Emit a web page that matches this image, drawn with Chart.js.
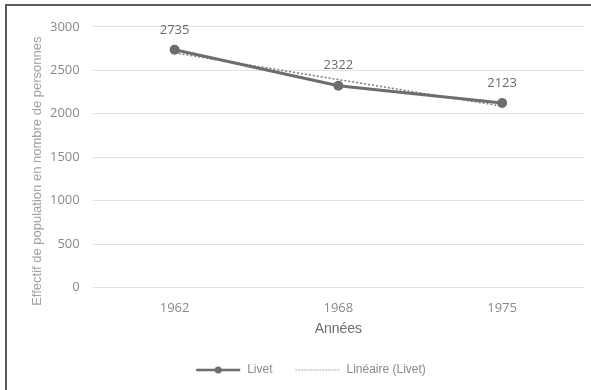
<!DOCTYPE html>
<html>
<head>
<meta charset="utf-8">
<script src="https://cdn.jsdelivr.net/npm/chart.js@4/dist/chart.umd.min.js"></script>
<style>
    body { margin: 0; background: #fff; }
    #box {
        position: absolute; left: 5px; top: 4px; width: 586px; height: 386px;
        border-left: 2px solid #5a5a5a; border-top: 2px solid #5a5a5a;
        box-sizing: border-box;
    }
    #wrap { position: absolute; left: 0; top: 0; width: 584px; height: 384px; }
</style>
</head>
<body>
<div id="box"><div id="wrap"><canvas id="chart"></canvas></div></div>
<script>
const annees = ["1962", "1968", "1975"];
const livet = [2735, 2322, 2123];
// tendance linéaire
const tendance = [2700, 2393, 2087];
const yTicks = [0, 500, 1000, 1500, 2000, 2500, 3000];
const titreY = "Effectif de population en nombre de personnes";

const gris = "#6d6d6d";

function legendMark(dotted) {
    let c = document.createElement("canvas");
    c.width = 46; c.height = 10;
    let g = c.getContext("2d");
    g.strokeStyle = dotted ? "#8a8a8a" : gris;
    g.lineWidth = dotted ? 1.2 : 2.5;
    if (dotted) g.setLineDash([1.5, 1.5]);
    g.beginPath(); g.moveTo(1, 5); g.lineTo(45, 5); g.stroke();
    if (!dotted) {
        g.fillStyle = gris;
        g.beginPath(); g.arc(23, 5, 3.5, 0, Math.PI * 2); g.fill();
    }
    return c;
}

const labelsPlugin = {
    id: "valeurs",
    afterDatasetsDraw(chart) {
        let ctx = chart.ctx;
        let meta = chart.getDatasetMeta(0);
        ctx.save();
        ctx.font = "13px 'Open Sans'";
        ctx.fillStyle = "#6a6a6a";
        ctx.textAlign = "center";
        ctx.textBaseline = "middle";
        meta.data.forEach((pt, i) => {
            ctx.fillText(String(livet[i]), pt.x, pt.y - 20);
        });

        // titre de l'axe vertical, un peu plus bas que le centre comme dans Excel
        let a = chart.chartArea;
        ctx.translate(30, (a.top + a.bottom) / 2 + 14);
        ctx.rotate(-Math.PI / 2);
        ctx.font = "13px 'Liberation Sans'";
        ctx.fillStyle = "#a2a2a2";
        ctx.fillText(titreY, 0, 0);
        ctx.restore();
    }
};

new Chart(document.getElementById("chart"), {
    type: "line",
    data: {
        labels: annees,
        datasets: [{
            label: "Livet",
            data: livet,
            borderColor: gris,
            backgroundColor: gris,
            borderWidth: 3,
            pointRadius: 5,
            pointBackgroundColor: gris,
            pointBorderWidth: 0,
            tension: 0,
            pointStyle: "circle",
            order: 1
        }, {
            label: "Linéaire (Livet)",
            data: tendance,
            borderColor: "#7a7a7a",
            borderWidth: 1.5,
            borderDash: [2, 2],
            pointRadius: 0,
            tension: 0,
            order: 2
        }]
    },
    options: {
        responsive: true,
        maintainAspectRatio: false,
        animation: false,
        layout: { padding: { top: 8, right: 7, left: 30, bottom: 4 } },
        plugins: {
            tooltip: { enabled: false },
            legend: {
                position: "bottom",
                labels: {
                    usePointStyle: true,
                    pointStyleWidth: 46,
                    padding: 22,
                    color: "#8a8a8a",
                    font: { family: "'Liberation Sans'", size: 12 },
                    generateLabels(chart) {
                        return chart.data.datasets.map((ds, i) => ({
                            text: ds.label,
                            pointStyle: legendMark(i === 1),
                            fontColor: "#8a8a8a",
                            lineWidth: 0,
                            datasetIndex: i
                        }));
                    }
                }
            }
        },
        scales: {
            x: {
                offset: true,
                grid: { display: false },
                border: { display: false },
                ticks: { color: "#8a8a8a", font: { family: "'Open Sans'", size: 13 }, padding: 5 },
                title: {
                    display: true, text: "Années", color: "#6e6e6e",
                    font: { family: "'Liberation Sans'", size: 14 }, padding: { top: 0, bottom: 4 }
                }
            },
            y: {
                min: 0, max: 3000,
                afterBuildTicks(axis) { axis.ticks = yTicks.map(v => ({ value: v })); },
                grid: { color: "#e2e2e2", drawTicks: false },
                border: { display: false },
                ticks: {
                    color: "#8a8a8a", font: { family: "'Open Sans'", size: 13 }, padding: 13,
                    callback: (v) => String(v)
                },
                title: { display: false }
            }
        }
    },
    plugins: [labelsPlugin]
});
</script>
</body>
</html>
